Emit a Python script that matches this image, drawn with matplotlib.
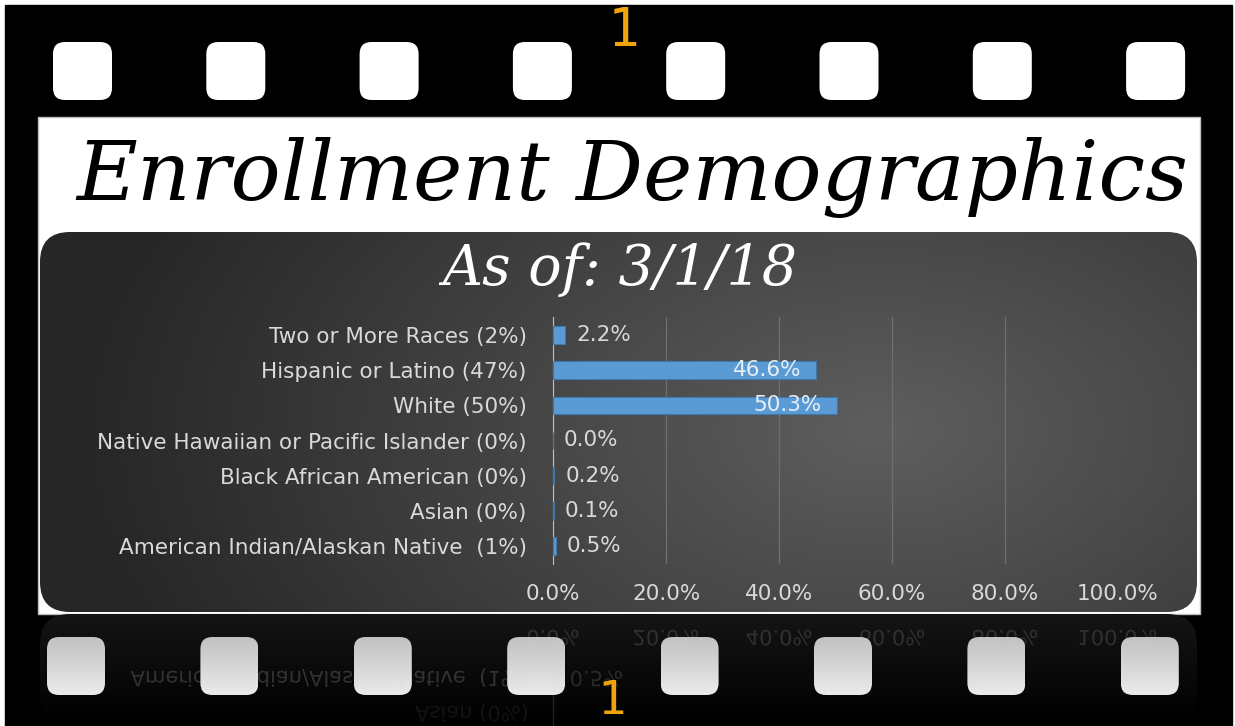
import numpy as np
import matplotlib
matplotlib.use("Agg")
import matplotlib.pyplot as plt
from matplotlib.patches import FancyBboxPatch, Rectangle, PathPatch
from matplotlib.textpath import TextPath
from matplotlib.font_manager import FontProperties
from matplotlib.transforms import Affine2D

# ---- data ---------------------------------------------------------------
categories = [
    "American Indian/Alaskan Native  (1%)",
    "Asian (0%)",
    "Black African American (0%)",
    "Native Hawaiian or Pacific Islander (0%)",
    "White (50%)",
    "Hispanic or Latino (47%)",
    "Two or More Races (2%)",
]
values = [0.5, 0.1, 0.2, 0.0, 50.3, 46.6, 2.2]
xticks = [0, 20, 40, 60, 80, 100]
xtick_labels = ["0.0%", "20.0%", "40.0%", "60.0%", "80.0%", "100.0%"]
title = "Enrollment Demographics"
subtitle = "As of: 3/1/18"
frame_number = "1"

LABEL_FONT = "DejaVu Sans"
SCRIPT_FONT = "DejaVu Serif"
TEXT_GREY = "#d9d9d9"
BAR_BLUE = "#5B9BD5"
ORANGE = "#F0A30A"
FS = 15.5

W, H = 1235, 726
fig = plt.figure(figsize=(W / 100, H / 100), dpi=100)
fig.patch.set_facecolor("white")

# decoration layer in pixel coordinates (y downwards)
bg = fig.add_axes([0, 0, 1, 1])
bg.set_xlim(0, W)
bg.set_ylim(H, 0)
bg.axis("off")


def rounded(x, y, w, h, r, **kw):
    p = FancyBboxPatch((x, y), w, h, boxstyle=f"round,pad=0,rounding_size={r}",
                       transform=bg.transData, **kw)
    bg.add_patch(p)
    return p


def gradient_fill(patch, img, extent, z=2):
    im = bg.imshow(img, extent=extent, aspect="auto", interpolation="bilinear",
                   zorder=z)
    im.set_clip_path(patch)
    return im


def mirror_text(x, y, s, size, alpha, ha="center", family=LABEL_FONT):
    # y is where the baseline lands; glyphs hang downwards (reflection)
    tp = TextPath((0, 0), s, size=size, prop=FontProperties(family=family))
    ext = tp.get_extents()
    if ha == "center":
        dx = x - (ext.x0 + ext.x1) / 2
    elif ha == "right":
        dx = x - ext.x1
    else:
        dx = x - ext.x0
    path = tp.transformed(Affine2D().translate(dx, y))
    bg.add_patch(PathPatch(path, facecolor=TEXT_GREY, edgecolor="none",
                           alpha=alpha, zorder=6))


# ---- film strip ----------------------------------------------------------
bg.add_patch(Rectangle((5, 5), 1227, 721, color="black", zorder=1))

for i in range(8):
    rounded(53 + 153.3 * i, 42, 59, 58, 12, facecolor="white",
            edgecolor="none", zorder=3)

bg.text(623, 46, frame_number, color=ORANGE, fontsize=38,
        family="DejaVu Sans Mono", ha="center", va="baseline", zorder=4)

# white title card
bg.add_patch(Rectangle((38, 117), 1162, 497, facecolor="white",
                       edgecolor="#bdbdbd", lw=1, zorder=2))
bg.text(632, 178, title, fontsize=60, family=SCRIPT_FONT,
        style="italic", color="black", ha="center", va="center", zorder=3)

# dark chart panel with radial gradient
px0, px1, py0, py1 = 40, 1197, 232, 612
panel = rounded(px0, py0, px1 - px0, py1 - py0, 30, facecolor="none",
                edgecolor="none", zorder=3)
yy, xx = np.mgrid[py0:py1, px0:px1]
d = np.clip(np.hypot((xx - 880) / 800, (yy - 430) / 480), 0, 1)
val = 0.37 - 0.22 * d
gradient_fill(panel, np.dstack([val, val, val]), (px0, px1, py1, py0), z=3)

bg.text(620, 270, subtitle, fontsize=40, family=SCRIPT_FONT,
        style="italic", color="white", ha="center", va="center", zorder=5)

# ---- reflection below the card --------------------------------------------
refl = rounded(px0, 614, px1 - px0, 112, 30, facecolor="none",
               edgecolor="none", zorder=2)
ry = np.linspace(0.08, 0.0, 112)[:, None] * np.ones((1, 20))
gradient_fill(refl, np.dstack([ry, ry, ry]), (px0, px1, 726, 614), z=2)

x0_px, x100_px = 553, 1118
for t, lab in zip(xticks, xtick_labels):
    mirror_text(x0_px + (x100_px - x0_px) * t / 100, 630, lab, 21, 0.16)
mirror_text(527, 671, categories[0], 21, 0.2, ha="right")
mirror_text(571, 671, "0.5%", 21, 0.16, ha="left")
mirror_text(527, 706, categories[1], 21, 0.08, ha="right")
bg.plot([553, 553], [659, 726], color=TEXT_GREY, alpha=0.15, lw=1, zorder=6)

for i in range(8):
    hx = 47 + 153.4 * i
    hp = rounded(hx, 637, 58, 58, 12, facecolor="none", edgecolor="none", zorder=4)
    g = np.linspace(0.76, 0.92, 58)[:, None] * np.ones((1, 4))
    gradient_fill(hp, np.dstack([g, g, g]), (hx, hx + 58, 695, 637), z=4)

bg.text(612, 714, frame_number, color=ORANGE, fontsize=34,
        family="DejaVu Sans Mono", ha="center", va="baseline", zorder=7)

# ---- bar chart ------------------------------------------------------------
ax = fig.add_axes([x0_px / W, 1 - 563.6 / H, (x100_px - x0_px) / W, 246.2 / H])
ax.set_facecolor("none")
ax.set_zorder(10)
pos = np.arange(len(categories))
ax.barh(pos, values, height=0.5, color=BAR_BLUE, edgecolor="#3f78ad",
        lw=0.8, zorder=3)
ax.set_xlim(0, 100)
ax.set_ylim(-0.5, len(categories) - 0.5)
ax.set_xticks(xticks)
ax.set_xticklabels(xtick_labels)
ax.set_yticks(pos)
ax.set_yticklabels(categories)
ax.grid(axis="x", color="#6f6f6f", lw=0.9)
ax.set_axisbelow(True)
for s in ("top", "right", "bottom"):
    ax.spines[s].set_visible(False)
ax.spines["left"].set_color("#bfbfbf")
ax.tick_params(axis="both", length=0, colors=TEXT_GREY, labelsize=FS)
ax.tick_params(axis="x", pad=15)
ax.tick_params(axis="y", pad=19)
for lab in ax.get_xticklabels() + ax.get_yticklabels():
    lab.set_family(LABEL_FONT)

for p, v in zip(pos, values):
    if v > 10:
        ax.annotate(f"{v:.1f}%", (v, p), xytext=(-11, 0), textcoords="offset points",
                    ha="right", va="center", color="#e6eef6", fontsize=FS,
                    family=LABEL_FONT)
    else:
        ax.annotate(f"{v:.1f}%", (v, p), xytext=(8, 0), textcoords="offset points",
                    ha="left", va="center", color=TEXT_GREY, fontsize=FS,
                    family=LABEL_FONT)

fig.savefig("out.png", dpi=100)
